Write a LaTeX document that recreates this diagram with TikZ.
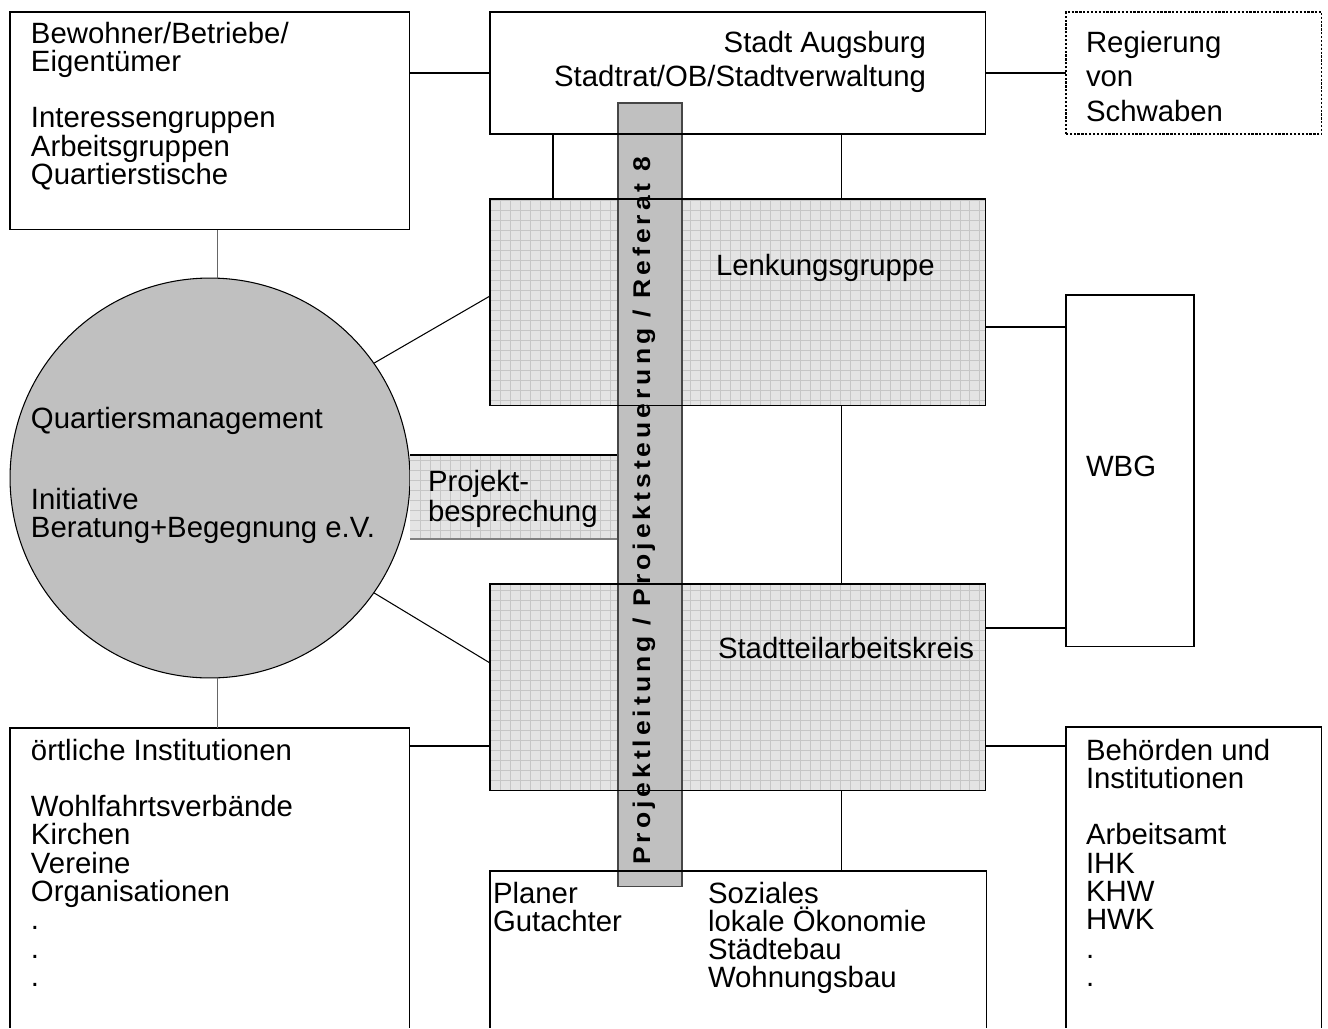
\documentclass[tikz,border=0pt]{standalone}
\usepackage{fontspec}
\usepackage{graphicx}
\setmainfont{Liberation Sans}
\newfontfamily\barfont[LetterSpace=15]{Liberation Sans}
\usetikzlibrary{calc}
\definecolor{barfill}{RGB}{192,192,192}
\definecolor{gridbg}{RGB}{228,228,228}
\definecolor{gridln}{RGB}{198,198,198}
\newcommand\mlsep{\egroup\hbox\bgroup}
\newcommand\ml[2][16.1pt]{\vtop{\baselineskip=#1\lineskiplimit=-100pt\lineskip=0pt\let\\\mlsep\hbox{#2}}}
\newcommand\gridfill[1]{%
  \fill[gridbg] (#1.south west) rectangle (#1.north east);
  \begin{scope}
    \clip (#1.south west) rectangle (#1.north east);
    \draw[gridln, line width=0.35pt, step=0.2cm] (#1.south west) grid (#1.north east);
  \end{scope}}
\tikzset{
  frame/.style={inner sep=0, outer sep=0, anchor=north west, shape=rectangle},
  boxline/.style={line width=0.6pt, draw=black},
  conn/.style={line width=0.6pt, draw=black},
  txt/.style={inner sep=0, outer sep=0, font=\fontsize{16.7}{16.1}\selectfont},
}
\begin{document}
\begin{tikzpicture}[x=0.02cm, y=-0.02cm]
\useasboundingbox (0,0) rectangle (1328,1028);
\fill[white] (0,0) rectangle (1328,1028);

% position nodes
\node[frame, minimum width=8cm, minimum height=4.36cm] (bew) at (10,12) {};
\node[frame, minimum width=9.92cm, minimum height=2.44cm] (stadt) at (490,12) {};
\node[frame, minimum width=5.12cm, minimum height=2.44cm] (reg) at (1066,12) {};
\node[frame, minimum width=9.92cm, minimum height=4.14cm] (lenk) at (490,199) {};
\node[frame, minimum width=2.56cm, minimum height=7.04cm] (wbg) at (1066,295) {};
\node[frame, minimum width=9.92cm, minimum height=4.14cm] (stk) at (490,584) {};
\node[frame, minimum width=8cm, minimum height=6cm] (ort) at (10,728) {};
\node[frame, minimum width=5.12cm, minimum height=6.02cm] (beh) at (1066,727) {};
\node[frame, minimum width=9.94cm, minimum height=3.14cm] (plan) at (490,871) {};
\node[frame, minimum width=4.16cm, minimum height=1.68cm] (proj) at (410,455) {};
\node[frame, minimum width=1.28cm, minimum height=15.68cm] (bar) at (618,103) {};

% simple boxes
\draw[boxline] (bew.south west) rectangle (bew.north east);
\draw[boxline, dash pattern=on 1.3pt off 0.9pt] (reg.south west) rectangle (reg.north east);
\draw[boxline] (wbg.south west) rectangle (wbg.north east);
\draw[boxline] (ort.south west) |- (ort.north east) -- (ort.south east);
\draw[boxline] (beh.south west) |- (beh.north east) -- (beh.south east);

% connectors
\draw[conn] (stadt.west) -- (stadt.west -| bew.east);
\draw[conn] (stadt.east) -- (reg.west);
\draw[conn] ([xshift=1.26cm]stadt.south west) -- ([xshift=1.26cm]lenk.north west);
\draw[conn] ([xshift=7.04cm]stadt.south west) -- ([xshift=7.04cm]lenk.north west);
\draw[conn] ([xshift=7.04cm]lenk.south west) -- ([xshift=7.04cm]stk.north west);
\draw[conn] ([yshift=-2.56cm]lenk.north east) coordinate (a1) -- (a1 -| wbg.west);
\draw[conn] ([yshift=-0.88cm]stk.north east) coordinate (a2) -- (a2 -| wbg.west);
\draw[conn] ([yshift=-0.36cm]ort.north east) coordinate (a3) -- (a3 -| stk.west);
\draw[conn] ([yshift=-0.38cm]beh.north west) coordinate (a4) -- (a4 -| stk.east);
\draw[conn] ([xshift=7.04cm]stk.south west) -- ([xshift=7.04cm]plan.north west);

% circle
\node[circle, minimum size=8cm, inner sep=0, fill=barfill, draw=black, line width=0.6pt] (q) at (210,478) {};
\draw[conn, draw=gray!80!black] ([xshift=0.16cm]bew.south) -- ([xshift=0.16cm]bew.south |- q.north);
\draw[conn, draw=gray!80!black] ([xshift=0.16cm]ort.north) -- ([xshift=0.16cm]ort.north |- q.south);
\draw[conn] (q.35) -- ([yshift=-1.94cm]lenk.north west);
\draw[conn] (q.-35) -- ([yshift=-1.58cm]stk.north west);

% grid fills
\gridfill{lenk}
\gridfill{stk}
\gridfill{proj}
\draw[conn] (proj.north west) -- (proj.north east);
\draw[conn, draw=gray] (proj.south west) -- (proj.south east);

% vertical bar
\fill[barfill] (bar.south west) rectangle (bar.north east);
\draw[line width=0.6pt, draw=gray!55!black] (bar.south west) rectangle (bar.north east);

% borders over bar
\draw[boxline] (stadt.south west) rectangle (stadt.north east);
\draw[boxline] (lenk.south west) rectangle (lenk.north east);
\draw[boxline] (stk.south west) rectangle (stk.north east);
\draw[boxline] (plan.south west) |- (plan.north east) -- (plan.south east);

% bar text
\node[rotate=90, anchor=base, inner sep=0] (bartxt) at (650,511)
  {\resizebox{14.16cm}{0.35cm}{\barfont\bfseries Projektleitung / Projektsteuerung / Referat 8}};

% texts
\node[txt, anchor=base west] (tbew) at (31,43) {\ml{Bewohner/Betriebe/\\Eigentümer\\\\Interessengruppen\\Arbeitsgruppen\\Quartierstische}};
\node[txt, anchor=base east] (tst1) at (926,52) {Stadt Augsburg};
\node[txt, anchor=base east] (tst2) at (926,86) {Stadtrat/OB/Stadtverwaltung};
\node[txt, anchor=base west] (treg) at (1086,52) {\ml[19.8pt]{Regierung\\von\\Schwaben}};
\node[txt, anchor=base west] (tlenk) at (716,275) {Lenkungsgruppe};
\node[txt, anchor=base west] (tq1) at (31,428) {Quartiersmanagement};
\node[txt, anchor=base west] (tq2) at (31,509) {\ml[16.4pt]{Initiative\\Beratung+Begegnung e.V.}};
\node[txt, anchor=base west] (tproj) at (428,491) {\ml[17.3pt]{Projekt-\\besprechung}};
\node[txt, anchor=base west] (twbg) at (1086,476) {WBG};
\node[txt, anchor=base west] (tstk) at (718,658) {Stadtteilarbeitskreis};
\node[txt, anchor=base west] (tort) at (31,760) {\ml{örtliche Institutionen\\\\Wohlfahrtsverbände\\Kirchen\\Vereine\\Organisationen\\.\\.\\.}};
\node[txt, anchor=base west] (tbeh) at (1086,760) {\ml{Behörden und\\Institutionen\\\\Arbeitsamt\\IHK\\KHW\\HWK\\.\\.}};
\node[txt, anchor=base west] (tplan) at (493,903) {\ml{Planer\\Gutachter}};
\node[txt, anchor=base west] (tsoz) at (708,903) {\ml{Soziales\\lokale Ökonomie\\Städtebau\\Wohnungsbau}};
\end{tikzpicture}
\end{document}
